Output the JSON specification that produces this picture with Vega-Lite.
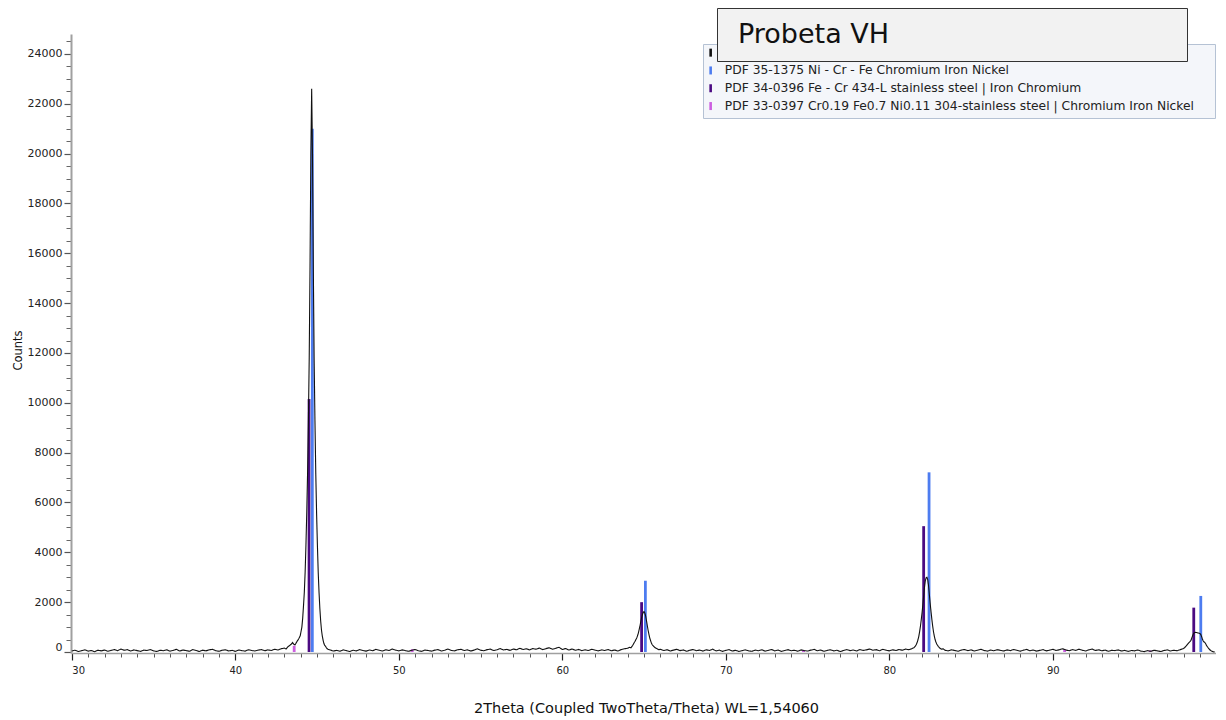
{
  "$schema": "https://vega.github.io/schema/vega-lite/v6.json",
  "autosize": {"type": "none"},
  "padding": {"left": 71, "top": 34, "right": 10.5, "bottom": 67},
  "width": 1144.5,
  "height": 619,
  "background": "white",
  "config": {"view": {"stroke": null}, "axis": {"grid": false}},
  "datasets": {
    "pattern": [
      {"t":30.0,"c":40},{"t":30.2,"c":70},{"t":30.4,"c":20},{"t":30.6,"c":55},{"t":30.8,"c":90},
      {"t":31.0,"c":35},{"t":31.2,"c":60},{"t":31.4,"c":10},{"t":31.6,"c":75},{"t":31.8,"c":45},
      {"t":32.0,"c":80},{"t":32.2,"c":30},{"t":32.4,"c":65},{"t":32.6,"c":100},{"t":32.8,"c":50},
      {"t":33.0,"c":120},{"t":33.2,"c":70},{"t":33.4,"c":95},{"t":33.6,"c":40},{"t":33.8,"c":85},
      {"t":34.0,"c":55},{"t":34.2,"c":25},{"t":34.4,"c":75},{"t":34.6,"c":60},{"t":34.8,"c":100},
      {"t":35.0,"c":45},{"t":35.2,"c":20},{"t":35.4,"c":70},{"t":35.6,"c":50},{"t":35.8,"c":90},
      {"t":36.0,"c":35},{"t":36.2,"c":65},{"t":36.4,"c":110},{"t":36.6,"c":40},{"t":36.8,"c":80},
      {"t":37.0,"c":55},{"t":37.2,"c":30},{"t":37.4,"c":95},{"t":37.6,"c":60},{"t":37.8,"c":20},
      {"t":38.0,"c":75},{"t":38.2,"c":45},{"t":38.4,"c":85},{"t":38.6,"c":110},{"t":38.8,"c":50},
      {"t":39.0,"c":30},{"t":39.2,"c":70},{"t":39.4,"c":90},{"t":39.6,"c":40},{"t":39.8,"c":65},
      {"t":40.0,"c":25},{"t":40.2,"c":80},{"t":40.4,"c":55},{"t":40.6,"c":35},{"t":40.8,"c":90},
      {"t":41.0,"c":60},{"t":41.2,"c":40},{"t":41.4,"c":75},{"t":41.6,"c":100},{"t":41.8,"c":50},
      {"t":42.0,"c":85},{"t":42.2,"c":60},{"t":42.4,"c":110},{"t":42.6,"c":80},{"t":42.8,"c":130},
      {"t":43.0,"c":160},{"t":43.1,"c":120},{"t":43.2,"c":200},{"t":43.3,"c":250},{"t":43.4,"c":300},
      {"t":43.5,"c":380},{"t":43.55,"c":330},{"t":43.6,"c":300},{"t":43.65,"c":290},{"t":43.7,"c":340},
      {"t":43.77,"c":420},{"t":43.87,"c":520},{"t":43.97,"c":650},{"t":44.07,"c":1000},{"t":44.12,"c":1350},
      {"t":44.17,"c":1850},{"t":44.22,"c":2400},{"t":44.27,"c":3200},{"t":44.32,"c":4300},{"t":44.37,"c":5600},
      {"t":44.42,"c":7200},{"t":44.47,"c":9300},{"t":44.52,"c":11800},{"t":44.57,"c":15500},{"t":44.62,"c":20000},
      {"t":44.67,"c":22600},{"t":44.72,"c":20000},{"t":44.77,"c":15500},{"t":44.82,"c":11800},{"t":44.87,"c":9300},
      {"t":44.92,"c":7200},{"t":44.97,"c":5600},{"t":45.02,"c":4300},{"t":45.07,"c":3200},{"t":45.12,"c":2400},
      {"t":45.17,"c":1750},{"t":45.22,"c":1250},{"t":45.27,"c":880},{"t":45.32,"c":640},{"t":45.37,"c":470},
      {"t":45.42,"c":340},{"t":45.47,"c":260},{"t":45.52,"c":230},{"t":45.57,"c":170},{"t":45.62,"c":130},
      {"t":45.67,"c":110},{"t":45.8,"c":80},{"t":46.0,"c":40},{"t":46.2,"c":65},{"t":46.4,"c":30},
      {"t":46.6,"c":85},{"t":46.8,"c":55},{"t":47.0,"c":20},{"t":47.2,"c":70},{"t":47.4,"c":45},
      {"t":47.6,"c":95},{"t":47.8,"c":60},{"t":48.0,"c":35},{"t":48.2,"c":80},{"t":48.4,"c":50},
      {"t":48.6,"c":105},{"t":48.8,"c":70},{"t":49.0,"c":40},{"t":49.2,"c":90},{"t":49.4,"c":60},
      {"t":49.6,"c":120},{"t":49.8,"c":75},{"t":50.0,"c":45},{"t":50.2,"c":85},{"t":50.4,"c":55},
      {"t":50.6,"c":30},{"t":50.8,"c":70},{"t":51.0,"c":100},{"t":51.2,"c":50},{"t":51.4,"c":25},
      {"t":51.6,"c":80},{"t":51.8,"c":60},{"t":52.0,"c":35},{"t":52.2,"c":75},{"t":52.4,"c":95},
      {"t":52.6,"c":40},{"t":52.8,"c":70},{"t":53.0,"c":120},{"t":53.2,"c":65},{"t":53.4,"c":45},
      {"t":53.6,"c":90},{"t":53.8,"c":110},{"t":54.0,"c":60},{"t":54.2,"c":85},{"t":54.4,"c":40},
      {"t":54.6,"c":75},{"t":54.8,"c":130},{"t":55.0,"c":70},{"t":55.2,"c":50},{"t":55.4,"c":95},
      {"t":55.6,"c":115},{"t":55.8,"c":60},{"t":56.0,"c":90},{"t":56.2,"c":140},{"t":56.4,"c":80},
      {"t":56.6,"c":105},{"t":56.8,"c":65},{"t":57.0,"c":120},{"t":57.2,"c":90},{"t":57.4,"c":150},
      {"t":57.6,"c":100},{"t":57.8,"c":130},{"t":58.0,"c":85},{"t":58.2,"c":140},{"t":58.4,"c":110},
      {"t":58.6,"c":160},{"t":58.8,"c":95},{"t":59.0,"c":135},{"t":59.2,"c":170},{"t":59.4,"c":110},
      {"t":59.6,"c":150},{"t":59.8,"c":190},{"t":60.0,"c":100},{"t":60.2,"c":140},{"t":60.4,"c":80},
      {"t":60.6,"c":120},{"t":60.8,"c":70},{"t":61.0,"c":105},{"t":61.2,"c":55},{"t":61.4,"c":90},
      {"t":61.6,"c":60},{"t":61.8,"c":110},{"t":62.0,"c":75},{"t":62.2,"c":45},{"t":62.4,"c":85},
      {"t":62.6,"c":60},{"t":62.8,"c":100},{"t":63.0,"c":50},{"t":63.2,"c":80},{"t":63.4,"c":40},
      {"t":63.6,"c":95},{"t":63.8,"c":130},{"t":64.0,"c":150},{"t":64.1,"c":190},{"t":64.2,"c":170},
      {"t":64.3,"c":260},{"t":64.35,"c":320},{"t":64.4,"c":380},{"t":64.45,"c":430},{"t":64.5,"c":500},
      {"t":64.55,"c":560},{"t":64.6,"c":650},{"t":64.65,"c":760},{"t":64.7,"c":900},{"t":64.75,"c":1050},
      {"t":64.8,"c":1220},{"t":64.85,"c":1380},{"t":64.9,"c":1500},{"t":64.95,"c":1590},{"t":65.0,"c":1620},
      {"t":65.05,"c":1560},{"t":65.1,"c":1430},{"t":65.15,"c":1250},{"t":65.2,"c":1050},{"t":65.25,"c":860},
      {"t":65.3,"c":700},{"t":65.35,"c":560},{"t":65.4,"c":450},{"t":65.45,"c":360},{"t":65.5,"c":290},
      {"t":65.6,"c":220},{"t":65.7,"c":160},{"t":65.8,"c":130},{"t":65.9,"c":90},{"t":66.0,"c":110},
      {"t":66.2,"c":60},{"t":66.4,"c":95},{"t":66.6,"c":40},{"t":66.8,"c":75},{"t":67.0,"c":110},
      {"t":67.2,"c":55},{"t":67.4,"c":85},{"t":67.6,"c":30},{"t":67.8,"c":70},{"t":68.0,"c":100},
      {"t":68.2,"c":50},{"t":68.4,"c":80},{"t":68.6,"c":35},{"t":68.8,"c":90},{"t":69.0,"c":60},
      {"t":69.2,"c":115},{"t":69.4,"c":45},{"t":69.6,"c":75},{"t":69.8,"c":25},{"t":70.0,"c":65},
      {"t":70.2,"c":95},{"t":70.4,"c":40},{"t":70.6,"c":70},{"t":70.8,"c":20},{"t":71.0,"c":55},
      {"t":71.2,"c":85},{"t":71.4,"c":45},{"t":71.6,"c":30},{"t":71.8,"c":75},{"t":72.0,"c":50},
      {"t":72.2,"c":90},{"t":72.4,"c":35},{"t":72.6,"c":65},{"t":72.8,"c":100},{"t":73.0,"c":45},
      {"t":73.2,"c":80},{"t":73.4,"c":25},{"t":73.6,"c":60},{"t":73.8,"c":95},{"t":74.0,"c":50},
      {"t":74.2,"c":70},{"t":74.4,"c":30},{"t":74.6,"c":85},{"t":74.8,"c":55},{"t":75.0,"c":40},
      {"t":75.2,"c":75},{"t":75.4,"c":105},{"t":75.6,"c":50},{"t":75.8,"c":80},{"t":76.0,"c":30},
      {"t":76.2,"c":65},{"t":76.4,"c":90},{"t":76.6,"c":45},{"t":76.8,"c":70},{"t":77.0,"c":20},
      {"t":77.2,"c":60},{"t":77.4,"c":95},{"t":77.6,"c":55},{"t":77.8,"c":80},{"t":78.0,"c":40},
      {"t":78.2,"c":100},{"t":78.4,"c":65},{"t":78.6,"c":85},{"t":78.8,"c":120},{"t":79.0,"c":70},
      {"t":79.2,"c":95},{"t":79.4,"c":50},{"t":79.6,"c":110},{"t":79.8,"c":75},{"t":80.0,"c":45},
      {"t":80.2,"c":90},{"t":80.4,"c":60},{"t":80.6,"c":100},{"t":80.8,"c":70},{"t":81.0,"c":120},
      {"t":81.2,"c":90},{"t":81.4,"c":140},{"t":81.5,"c":170},{"t":81.6,"c":240},{"t":81.65,"c":300},
      {"t":81.7,"c":380},{"t":81.75,"c":480},{"t":81.8,"c":620},{"t":81.85,"c":800},{"t":81.9,"c":1020},
      {"t":81.95,"c":1280},{"t":82.0,"c":1560},{"t":82.05,"c":1880},{"t":82.1,"c":2250},{"t":82.15,"c":2600},
      {"t":82.2,"c":2850},{"t":82.25,"c":2980},{"t":82.3,"c":3000},{"t":82.35,"c":2900},{"t":82.4,"c":2650},
      {"t":82.45,"c":2300},{"t":82.5,"c":1950},{"t":82.55,"c":1620},{"t":82.6,"c":1320},{"t":82.65,"c":1050},
      {"t":82.7,"c":820},{"t":82.75,"c":640},{"t":82.8,"c":500},{"t":82.85,"c":400},{"t":82.9,"c":320},
      {"t":83.0,"c":220},{"t":83.1,"c":150},{"t":83.2,"c":110},{"t":83.3,"c":130},{"t":83.4,"c":70},
      {"t":83.6,"c":45},{"t":83.8,"c":90},{"t":84.0,"c":60},{"t":84.2,"c":30},{"t":84.4,"c":75},
      {"t":84.6,"c":100},{"t":84.8,"c":55},{"t":85.0,"c":85},{"t":85.2,"c":40},{"t":85.4,"c":70},
      {"t":85.6,"c":110},{"t":85.8,"c":60},{"t":86.0,"c":35},{"t":86.2,"c":80},{"t":86.4,"c":50},
      {"t":86.6,"c":95},{"t":86.8,"c":65},{"t":87.0,"c":40},{"t":87.2,"c":85},{"t":87.4,"c":55},
      {"t":87.6,"c":100},{"t":87.8,"c":70},{"t":88.0,"c":30},{"t":88.2,"c":75},{"t":88.4,"c":105},
      {"t":88.6,"c":50},{"t":88.8,"c":80},{"t":89.0,"c":35},{"t":89.2,"c":65},{"t":89.4,"c":95},
      {"t":89.6,"c":45},{"t":89.8,"c":75},{"t":90.0,"c":110},{"t":90.2,"c":60},{"t":90.4,"c":90},
      {"t":90.6,"c":130},{"t":90.8,"c":80},{"t":91.0,"c":50},{"t":91.2,"c":95},{"t":91.4,"c":65},
      {"t":91.6,"c":115},{"t":91.8,"c":70},{"t":92.0,"c":40},{"t":92.2,"c":85},{"t":92.4,"c":120},
      {"t":92.6,"c":60},{"t":92.8,"c":90},{"t":93.0,"c":50},{"t":93.2,"c":75},{"t":93.4,"c":30},
      {"t":93.6,"c":70},{"t":93.8,"c":55},{"t":94.0,"c":85},{"t":94.2,"c":40},{"t":94.4,"c":65},
      {"t":94.6,"c":25},{"t":94.8,"c":60},{"t":95.0,"c":45},{"t":95.2,"c":80},{"t":95.4,"c":35},
      {"t":95.6,"c":15},{"t":95.8,"c":55},{"t":96.0,"c":30},{"t":96.2,"c":70},{"t":96.4,"c":45},
      {"t":96.6,"c":20},{"t":96.8,"c":60},{"t":97.0,"c":85},{"t":97.2,"c":40},{"t":97.4,"c":70},
      {"t":97.6,"c":50},{"t":97.8,"c":95},{"t":98.0,"c":140},{"t":98.1,"c":200},{"t":98.2,"c":280},
      {"t":98.3,"c":360},{"t":98.4,"c":430},{"t":98.45,"c":470},{"t":98.5,"c":560},{"t":98.55,"c":650},
      {"t":98.6,"c":730},{"t":98.65,"c":770},{"t":98.7,"c":790},{"t":98.8,"c":780},{"t":98.9,"c":760},
      {"t":99.0,"c":740},{"t":99.05,"c":700},{"t":99.1,"c":620},{"t":99.15,"c":520},{"t":99.2,"c":440},
      {"t":99.25,"c":400},{"t":99.3,"c":380},{"t":99.35,"c":330},{"t":99.4,"c":260},{"t":99.5,"c":170},
      {"t":99.6,"c":90},{"t":99.7,"c":40},{"t":99.8,"c":10},{"t":99.9,"c":0}
    ],
    "sticks": [
      {"t":44.51,"i":10150,"s":"PDF 34-0396 Fe - Cr 434-L stainless steel | Iron Chromium"},
      {"t":64.85,"i":2000,"s":"PDF 34-0396 Fe - Cr 434-L stainless steel | Iron Chromium"},
      {"t":82.1,"i":5050,"s":"PDF 34-0396 Fe - Cr 434-L stainless steel | Iron Chromium"},
      {"t":98.62,"i":1780,"s":"PDF 34-0396 Fe - Cr 434-L stainless steel | Iron Chromium"},
      {"t":44.71,"i":21000,"s":"PDF 35-1375 Ni - Cr - Fe Chromium Iron Nickel"},
      {"t":65.08,"i":2860,"s":"PDF 35-1375 Ni - Cr - Fe Chromium Iron Nickel"},
      {"t":82.43,"i":7210,"s":"PDF 35-1375 Ni - Cr - Fe Chromium Iron Nickel"},
      {"t":99.05,"i":2250,"s":"PDF 35-1375 Ni - Cr - Fe Chromium Iron Nickel"},
      {"t":43.6,"i":250,"s":"PDF 33-0397 Cr0.19 Fe0.7 Ni0.11 304-stainless steel | Chromium Iron Nickel"},
      {"t":50.82,"i":110,"s":"PDF 33-0397 Cr0.19 Fe0.7 Ni0.11 304-stainless steel | Chromium Iron Nickel"},
      {"t":74.75,"i":80,"s":"PDF 33-0397 Cr0.19 Fe0.7 Ni0.11 304-stainless steel | Chromium Iron Nickel"},
      {"t":90.72,"i":100,"s":"PDF 33-0397 Cr0.19 Fe0.7 Ni0.11 304-stainless steel | Chromium Iron Nickel"},
      {"t":95.95,"i":60,"s":"PDF 33-0397 Cr0.19 Fe0.7 Ni0.11 304-stainless steel | Chromium Iron Nickel"}
    ]
  },
  "resolve": {"axis": {"x": "independent", "y": "independent"}},
  "layer": [
    {
      "data": {"name": "sticks"},
      "mark": {"type": "rule", "strokeWidth": 2.8},
      "encoding": {
        "x": {
          "field": "t", "type": "quantitative",
          "scale": {"domain": [29.95, 99.95], "zero": false, "nice": false},
          "axis": {"orient": "bottom", "values": [30,31,32,33,34,35,36,37,38,39,40,41,42,43,44,45,46,47,48,49,50,51,52,53,54,55,56,57,58,59,60,61,62,63,64,65,66,67,68,69,70,71,72,73,74,75,76,77,78,79,80,81,82,83,84,85,86,87,88,89,90,91,92,93,94,95,96,97,98,99], "labels": false, "domain": false, "title": null, "tickSize": 4, "tickColor": "#555555", "tickWidth": 1}
        },
        "y": {
          "field": "i", "type": "quantitative",
          "scale": {"domain": [-40, 24800], "zero": false, "nice": false},
          "axis": {"orient": "left", "values": [0,500,1000,1500,2000,2500,3000,3500,4000,4500,5000,5500,6000,6500,7000,7500,8000,8500,9000,9500,10000,10500,11000,11500,12000,12500,13000,13500,14000,14500,15000,15500,16000,16500,17000,17500,18000,18500,19000,19500,20000,20500,21000,21500,22000,22500,23000,23500,24000,24500], "labels": false, "domain": false, "title": null, "tickSize": 5, "tickColor": "#666666", "tickWidth": 1}
        },
        "y2": {"datum": 0},
        "color": {
          "field": "s", "type": "nominal",
          "scale": {
            "domain": ["Probeta VH", "PDF 35-1375 Ni - Cr - Fe Chromium Iron Nickel", "PDF 34-0396 Fe - Cr 434-L stainless steel | Iron Chromium", "PDF 33-0397 Cr0.19 Fe0.7 Ni0.11 304-stainless steel | Chromium Iron Nickel"],
            "range": ["#111111", "#4d7cf0", "#4b0a82", "#cc5ee0"]
          },
          "legend": {
            "orient": "none", "legendX": 632, "legendY": 10, "zindex": 1,
            "title": null, "padding": 2.5, "rowPadding": -2.2,
            "fillColor": "#f4f6fa", "strokeColor": "#b5c2d4",
            "symbolType": "M0,-1V1M124,0", "symbolSize": 64, "symbolStrokeWidth": 2.6, "symbolOffset": -1,
            "labelOffset": 8, "labelFont": "DejaVu Sans", "labelFontSize": 12.3, "labelColor": "#222222", "labelLimit": 1000,
            "labelExpr": "datum.value == 'Probeta VH' ? '' : datum.label"
          }
        }
      }
    },
    {
      "data": {"name": "pattern"},
      "mark": {"type": "line", "strokeWidth": 1.1},
      "encoding": {
        "x": {
          "field": "t", "type": "quantitative",
          "scale": {"domain": [29.95, 99.95], "zero": false, "nice": false},
          "axis": {
            "orient": "bottom", "values": [30,40,50,60,70,80,90],
            "title": "2Theta (Coupled TwoTheta/Theta) WL=1,54060",
            "titleFont": "DejaVu Sans", "titleFontSize": 14.5, "titleFontWeight": "normal", "titleColor": "#111111",
            "titleX": 575, "titleY": 55, "titleBaseline": "middle",
            "labelFont": "DejaVu Sans", "labelFontSize": 10, "labelColor": "#222222", "labelPadding": 5,
            "tickSize": 7, "tickColor": "#222222", "tickWidth": 1.2,
            "domainColor": "#a0a0a0", "domainWidth": 1.6
          }
        },
        "y": {
          "field": "c", "type": "quantitative",
          "scale": {"domain": [-40, 24800], "zero": false, "nice": false},
          "axis": {
            "orient": "left", "values": [0,2000,4000,6000,8000,10000,12000,14000,16000,18000,20000,22000,24000],
            "format": "d",
            "title": "Counts",
            "titleFont": "DejaVu Sans", "titleFontSize": 11.5, "titleFontWeight": "normal", "titleColor": "#111111",
            "titleX": -53, "titleY": 316, "titleBaseline": "middle", "titleAngle": -90,
            "labelFont": "DejaVu Sans", "labelFontSize": 11, "labelColor": "#222222", "labelPadding": 2, "labelFlush": 2,
            "tickSize": 7, "tickColor": "#555555", "tickWidth": 1.2,
            "domainColor": "#a0a0a0", "domainWidth": 2
          }
        },
        "color": {
          "datum": "Probeta VH", "type": "nominal",
          "scale": {
            "domain": ["Probeta VH", "PDF 35-1375 Ni - Cr - Fe Chromium Iron Nickel", "PDF 34-0396 Fe - Cr 434-L stainless steel | Iron Chromium", "PDF 33-0397 Cr0.19 Fe0.7 Ni0.11 304-stainless steel | Chromium Iron Nickel"],
            "range": ["#111111", "#4d7cf0", "#4b0a82", "#cc5ee0"]
          }
        },
        "strokeDash": {
          "datum": "Probeta VH", "type": "nominal",
          "scale": {"domain": ["Probeta VH"], "range": [[1, 0]]},
          "legend": {
            "orient": "none", "legendX": 646, "legendY": -26, "zindex": 2,
            "title": null, "padding": 13,
            "fillColor": "#f2f2f2", "strokeColor": "#333333",
            "symbolType": "M-27,0M861,0", "symbolSize": 1, "symbolStrokeWidth": 0, "symbolOffset": 0,
            "symbolStrokeColor": "transparent", "symbolFillColor": "transparent",
            "labelOffset": -19, "labelFont": "DejaVu Sans", "labelFontSize": 27, "labelColor": "#111111", "labelLimit": 1000
          }
        }
      }
    }
  ]
}
